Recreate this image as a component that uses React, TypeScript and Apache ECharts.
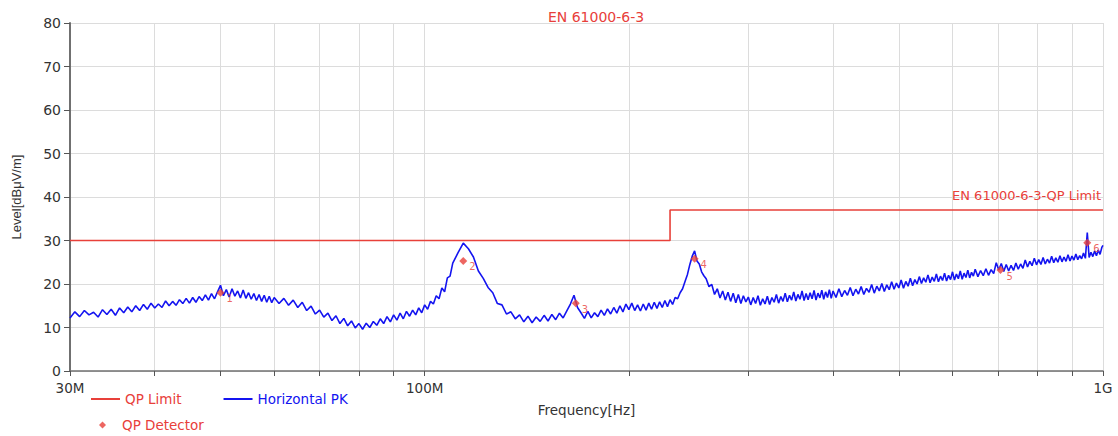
import React, { useEffect, useRef } from "react";
import * as echarts from "echarts";

// Horizontal PK trace (frequency in MHz, level in dBµV/m)
const freqMHz = [
  30, 30.5, 31, 31.5, 32, 32.5, 33, 33.5, 34, 34.5, 35, 35.5, 36, 36.5, 37, 37.5, 38, 38.5, 39, 39.5,
  40, 40.5, 41, 41.5, 42, 42.5, 43, 43.5, 44, 44.5, 45,
  45.5, 46, 46.5, 47, 47.5, 48, 48.5, 49, 49.5, 50, 50.5, 51, 51.5, 52, 52.5, 53, 53.5, 54, 54.5, 55,
  55.5, 56, 56.5, 57, 57.5, 58, 58.5, 59, 59.5,
  60, 61, 62, 63, 64, 65, 66, 67, 68, 69, 70, 71, 72, 73, 74, 75, 76, 77, 78, 79,
  80, 81, 82, 83, 84, 85, 86, 87, 88, 89, 90, 91, 92, 93, 94, 95, 96, 97, 98, 99,
  100, 101, 102, 103, 104, 105, 106, 107, 108, 109,
  110, 112, 114, 116, 118, 120, 122, 124, 126, 128, 130, 132, 134, 136, 138, 140, 142, 144, 146, 148,
  150, 152, 154, 156, 158, 160, 162, 164, 166, 168, 170, 172, 174, 176, 178, 180, 182, 184, 186, 188,
  190, 192, 194, 196, 198, 200, 202, 204, 206, 208, 210, 212, 214, 216, 218, 220, 222, 224, 226, 228,
  230, 232, 234, 236, 238, 240, 242, 244, 246, 248, 250, 252, 254, 256, 258,
  260, 262.5, 265, 267.5, 270, 272.5, 275, 277.5, 280, 282.5, 285, 287.5, 290, 292.5, 295, 297.5,
  300, 302.5, 305, 307.5, 310, 312.5, 315, 317.5, 320, 322.5, 325, 327.5, 330, 332.5, 335, 337.5,
  340, 342.5, 345, 347.5, 350, 352.5, 355, 357.5, 360, 362.5, 365, 367.5, 370, 372.5, 375, 377.5,
  380, 382.5, 385, 387.5, 390, 392.5, 395, 397.5,
  400, 404, 408, 412, 416, 420, 424, 428, 432, 436, 440, 444, 448, 452, 456, 460, 464, 468, 472, 476,
  480, 484, 488, 492, 496, 500, 504, 508, 512, 516, 520, 524, 528, 532, 536, 540, 544, 548, 552, 556,
  560, 564, 568, 572, 576, 580, 584, 588, 592, 596, 600, 604, 608, 612, 616, 620, 624, 628, 632, 636,
  640, 644, 648,
  654, 660, 666, 672, 678, 684, 690, 696, 702, 708, 714, 720, 726, 732, 738, 744, 750, 756, 762, 768,
  774, 780, 786, 792, 798, 804, 810, 816, 822, 828, 834, 840, 846, 852, 858, 864, 870, 876, 882, 888,
  894, 900, 906, 912, 918, 924, 930, 936, 942, 948, 954, 960, 966, 972, 978, 984, 990, 996, 1000,
];
const levelPK = [
  12.2, 13.6, 12.5, 13.9, 12.9, 13.5, 12.4, 14.1, 13.0, 14.2, 12.8, 14.5, 13.4, 14.7, 13.6, 15.0, 13.9, 15.3, 14.2, 15.6,
  14.5, 15.4, 14.6, 16.1, 15.0, 16.0, 15.1, 16.4, 15.5, 16.7, 15.6,
  16.9, 15.8, 17.1, 16.2, 17.5, 16.3, 17.8, 16.6, 18.2, 19.7, 17.3, 18.7, 17.0, 18.9, 17.2, 18.4, 16.8, 18.6, 16.7, 18.0,
  16.5, 17.8, 16.2, 17.6, 16.0, 17.4, 15.8, 17.2, 15.7,
  16.9, 15.5, 16.7, 15.1, 16.3, 14.6, 15.8, 13.9, 14.9, 13.1, 14.0, 12.4, 13.3, 11.6, 12.7, 10.9, 12.1, 10.4, 11.5, 9.9,
  10.9, 9.6, 11.0, 10.0, 11.4, 10.5, 12.0, 10.9, 12.5, 11.3, 12.9, 11.7, 13.3, 12.0, 13.7, 12.6, 14.0, 12.9, 14.5, 13.4,
  15.2, 14.2, 16.0, 15.4, 17.3, 16.6, 19.1, 18.2, 21.4, 21.8,
  24.8, 27.2, 29.4, 28.1, 26.2, 23.0, 21.3, 19.2, 18.0, 15.5, 15.2, 13.1, 13.6, 12.0, 12.9, 11.3, 12.6, 11.1, 12.4, 11.4,
  12.8, 11.5, 13.0, 11.8, 13.3, 12.2, 13.8, 15.4, 17.4, 14.6, 13.4, 12.1, 13.7, 12.2, 13.4, 12.5, 14.0, 12.8, 14.3, 13.1,
  14.6, 13.3, 15.0, 13.6, 15.4, 14.1, 15.6, 13.9, 15.2, 13.8, 15.4, 14.0, 15.6, 14.2, 15.8, 14.4, 15.9, 14.6, 16.2, 14.8,
  16.4, 15.3, 16.9, 16.6, 18.0, 18.9, 20.6, 22.2, 24.5, 26.4, 27.6, 25.3, 24.6, 22.8, 21.9,
  21.2, 19.4, 19.9, 17.6, 18.9, 16.8, 18.4, 16.3, 18.1, 16.0, 17.9, 15.7, 17.6, 15.5, 17.3, 15.9,
  17.0, 15.2, 16.9, 15.5, 17.3, 15.1, 16.6, 15.4, 17.2, 15.3, 16.9, 15.8, 17.6, 15.6, 17.1, 16.0,
  17.9, 15.9, 17.4, 16.3, 18.2, 16.1, 17.6, 16.5, 18.4, 16.2, 17.8, 16.4, 18.0, 16.6, 18.5, 16.3,
  17.9, 16.8, 18.6, 16.5, 18.2, 16.9, 18.7, 16.7,
  18.4, 16.9, 18.9, 17.1, 18.5, 17.4, 19.2, 17.3, 18.8, 17.7, 19.4, 17.6, 19.0, 18.1, 19.9, 17.9, 19.5, 18.4, 20.1, 18.3,
  19.8, 18.7, 20.5, 18.8, 20.2, 19.1, 20.9, 19.0, 20.6, 19.5, 21.3, 19.6, 21.0, 20.0, 21.7, 20.1, 21.4, 20.4, 22.1, 20.3,
  21.6, 20.6, 22.3, 20.5, 21.8, 20.8, 22.5, 20.7, 22.0, 21.0, 22.8, 20.9, 22.3, 21.2, 23.0, 21.1, 22.5, 21.5, 23.2, 21.4,
  22.7, 21.8, 23.4,
  21.7, 23.1, 21.9, 23.5, 22.0, 23.3, 22.4, 24.9, 23.2, 24.7, 22.9, 24.5, 23.0, 24.3, 23.1, 24.8, 23.4, 24.6, 23.6, 25.5,
  23.9, 25.2, 24.2, 25.9, 24.4, 25.6, 24.5, 26.1, 24.6, 25.7, 24.8, 26.4, 24.9, 26.0, 25.0, 26.5, 25.1, 26.2, 25.2, 26.7,
  25.3, 26.4, 25.5, 26.9, 25.6, 26.5, 25.8, 27.1, 25.9, 31.8, 26.1, 27.3, 26.3, 27.6, 26.5, 27.8, 26.8, 28.4, 28.9,
];

// QP limit (EN 61000-6-3)
const limitFreq = [30, 230, 230, 1000];
const limitLevel = [30, 30, 37, 37];

// QP detector readings
const qpFreq = [50, 114, 167, 250, 706, 948];
const qpLevel = [18.0, 25.3, 15.6, 25.8, 23.2, 29.5];
const qpLabels = ["1", "2", "3", "4", "5", "6"];

// Axis ticks (MHz)
const gridFreqs = [30, 40, 50, 60, 70, 80, 90, 100, 200, 300, 400, 500, 600, 700, 800, 900, 1000];
const labelFreqs = [30, 100, 1000];
const labelTexts = ["30M", "100M", "1G"];

const RED = "#e8403a";
const BLUE = "#1414f0";
const FONT = "'DejaVu Sans', sans-serif";
const FONT_V = "Arial, 'Liberation Sans', sans-serif";

export default function App() {
  const ref = useRef<HTMLDivElement>(null);
  useEffect(() => {
    document.body.style.margin = "0";
    if (!ref.current) return;
    const chart = echarts.init(ref.current, undefined, { renderer: "svg" });
    const lg = (f: number) => Math.log10(f);
    const n = Math.min(freqMHz.length, levelPK.length);
    const pkData = freqMHz.slice(0, n).map((f, i) => [lg(f), levelPK[i]]);
    const limitData = limitFreq.map((f, i) => [lg(f), limitLevel[i]]);
    const qpData = qpFreq.map((f, i) => ({ value: [lg(f), qpLevel[i]], name: qpLabels[i] }));
    const labelVals = labelFreqs.map(lg);
    const fmt = (v: number) => {
      for (let i = 0; i < labelVals.length; i++) {
        if (Math.abs(labelVals[i] - v) < 1e-6) return labelTexts[i];
      }
      return "";
    };
    chart.setOption({
      animation: false,
      textStyle: { fontFamily: FONT },
      title: {
        text: "EN 61000-6-3",
        left: 591,
        top: 5,
        textAlign: "center",
        textStyle: { color: RED, fontSize: 14, fontWeight: "normal", fontFamily: FONT },
      },
      grid: { left: 70, right: 15, top: 23, bottom: 65 },
      legend: [
        {
          left: 86,
          top: 387,
          itemWidth: 29,
          itemHeight: 2,
          itemGap: 42,
          icon: "rect",
          data: [
            { name: "QP Limit", textStyle: { color: RED } },
            { name: "Horizontal PK", textStyle: { color: BLUE } },
          ],
          textStyle: { fontSize: 13.5, fontFamily: FONT },
        },
        {
          left: 94,
          top: 413,
          itemWidth: 7,
          itemHeight: 7,
          data: [{ name: "QP Detector", icon: "diamond", textStyle: { color: RED } }],
          textStyle: { fontSize: 13.5, fontFamily: FONT, padding: [0, 0, 0, 11] },
        },
      ],
      xAxis: {
        type: "value",
        min: lg(30),
        max: lg(1000),
        name: "Frequency[Hz]",
        nameLocation: "middle",
        nameGap: 32,
        nameTextStyle: { color: "#333", fontSize: 13.5, fontFamily: FONT },
        axisLine: { lineStyle: { color: "#707070", width: 1.5 } },
        axisTick: { show: true, length: 5, customValues: gridFreqs.map(lg), lineStyle: { color: "#555" } },
        axisLabel: {
          customValues: labelVals,
          formatter: fmt,
          color: "#333",
          fontSize: 13.5,
          fontFamily: FONT,
          margin: 10,
          showMinLabel: true,
          showMaxLabel: true,
        },
        splitLine: { show: true, lineStyle: { color: "#dcdcdc", width: 1 } },
      },
      yAxis: {
        type: "value",
        min: 0,
        max: 80,
        interval: 10,
        name: "Level[dBμV/m]",
        nameLocation: "middle",
        nameGap: 47,
        nameTextStyle: { color: "#333", fontSize: 13, fontFamily: FONT_V },
        axisLine: { show: true, lineStyle: { color: "#707070", width: 2 } },
        axisTick: { show: true, length: 6, lineStyle: { color: "#555" } },
        axisLabel: { color: "#333", fontSize: 14, fontFamily: FONT, margin: 9 },
        splitLine: { show: true, lineStyle: { color: "#dcdcdc", width: 1 } },
      },
      series: [
        {
          name: "QP Limit",
          type: "line",
          data: limitData,
          symbol: "none",
          lineStyle: { color: RED, width: 1.6 },
          itemStyle: { color: RED },
          z: 3,
          markPoint: {
            symbol: "circle",
            symbolSize: 0,
            data: [{ coord: [lg(1000), 37], value: "EN 61000-6-3-QP Limit" }],
            label: {
              show: true,
              position: "top",
              align: "right",
              offset: [-2, -3],
              color: RED,
              fontSize: 13,
              fontFamily: FONT,
              formatter: "EN 61000-6-3-QP Limit",
            },
          },
        },
        {
          name: "Horizontal PK",
          type: "line",
          data: pkData,
          symbol: "none",
          lineStyle: { color: BLUE, width: 1.6 },
          itemStyle: { color: BLUE },
          z: 2,
        },
        {
          name: "QP Detector",
          type: "scatter",
          data: qpData,
          symbol: "diamond",
          symbolSize: 8,
          itemStyle: { color: RED },
          z: 4,
          label: {
            show: true,
            position: "right",
            offset: [-3, 6],
            formatter: (p: any) => p.name,
            color: RED,
            fontSize: 10,
            fontFamily: FONT,
          },
        },
      ],
    });
    return () => chart.dispose();
  }, []);
  return (
    <div
      ref={ref}
      style={{ position: "absolute", left: 0, top: 0, width: 1118, height: 436 }}
    />
  );
}
